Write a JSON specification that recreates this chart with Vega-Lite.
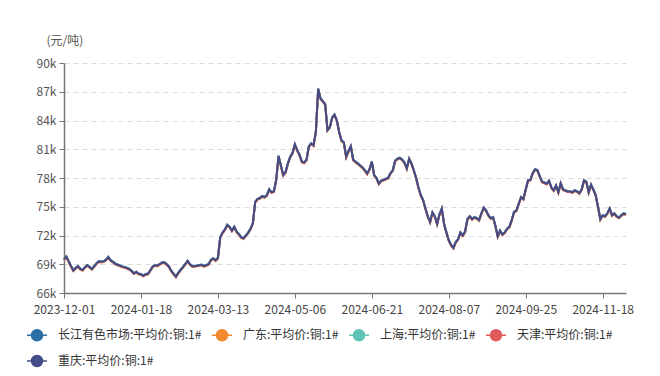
{
  "$schema": "https://vega.github.io/schema/vega-lite/v6.json",
  "width": 562,
  "height": 230,
  "autosize": {"type": "none"},
  "padding": {"left": 64, "top": 63, "right": 34, "bottom": 83},
  "background": "white",
  "config": {"view": {"stroke": null}, "font": "Noto Sans CJK SC"},
  "data": {"values": [
    {"d":"2023-12-01","cj":69530,"gd":69430,"sh":69510,"tj":69470,"cq":69500},
    {"d":"2023-12-04","cj":69830,"gd":69730,"sh":69810,"tj":69770,"cq":69800},
    {"d":"2023-12-05","cj":69330,"gd":69230,"sh":69310,"tj":69270,"cq":69300},
    {"d":"2023-12-06","cj":68830,"gd":68730,"sh":68810,"tj":68770,"cq":68800},
    {"d":"2023-12-07","cj":68380,"gd":68280,"sh":68360,"tj":68320,"cq":68350},
    {"d":"2023-12-08","cj":68630,"gd":68530,"sh":68610,"tj":68570,"cq":68600},
    {"d":"2023-12-11","cj":68830,"gd":68730,"sh":68810,"tj":68770,"cq":68800},
    {"d":"2023-12-12","cj":68530,"gd":68430,"sh":68510,"tj":68470,"cq":68500},
    {"d":"2023-12-13","cj":68430,"gd":68330,"sh":68410,"tj":68370,"cq":68400},
    {"d":"2023-12-14","cj":68730,"gd":68630,"sh":68710,"tj":68670,"cq":68700},
    {"d":"2023-12-15","cj":68930,"gd":68830,"sh":68910,"tj":68870,"cq":68900},
    {"d":"2023-12-18","cj":68730,"gd":68630,"sh":68710,"tj":68670,"cq":68700},
    {"d":"2023-12-19","cj":68530,"gd":68430,"sh":68510,"tj":68470,"cq":68500},
    {"d":"2023-12-20","cj":68830,"gd":68730,"sh":68810,"tj":68770,"cq":68800},
    {"d":"2023-12-21","cj":69130,"gd":69030,"sh":69110,"tj":69070,"cq":69100},
    {"d":"2023-12-22","cj":69330,"gd":69230,"sh":69310,"tj":69270,"cq":69300},
    {"d":"2023-12-25","cj":69280,"gd":69180,"sh":69260,"tj":69220,"cq":69250},
    {"d":"2023-12-26","cj":69330,"gd":69230,"sh":69310,"tj":69270,"cq":69300},
    {"d":"2023-12-27","cj":69480,"gd":69380,"sh":69460,"tj":69420,"cq":69450},
    {"d":"2023-12-28","cj":69780,"gd":69680,"sh":69760,"tj":69720,"cq":69750},
    {"d":"2023-12-29","cj":69430,"gd":69330,"sh":69410,"tj":69370,"cq":69400},
    {"d":"2024-01-02","cj":69280,"gd":69180,"sh":69260,"tj":69220,"cq":69250},
    {"d":"2024-01-03","cj":69080,"gd":68980,"sh":69060,"tj":69020,"cq":69050},
    {"d":"2024-01-04","cj":68980,"gd":68880,"sh":68960,"tj":68920,"cq":68950},
    {"d":"2024-01-05","cj":68880,"gd":68780,"sh":68860,"tj":68820,"cq":68850},
    {"d":"2024-01-08","cj":68780,"gd":68680,"sh":68760,"tj":68720,"cq":68750},
    {"d":"2024-01-09","cj":68730,"gd":68630,"sh":68710,"tj":68670,"cq":68700},
    {"d":"2024-01-10","cj":68630,"gd":68530,"sh":68610,"tj":68570,"cq":68600},
    {"d":"2024-01-11","cj":68530,"gd":68430,"sh":68510,"tj":68470,"cq":68500},
    {"d":"2024-01-12","cj":68330,"gd":68230,"sh":68310,"tj":68270,"cq":68300},
    {"d":"2024-01-15","cj":68080,"gd":67980,"sh":68060,"tj":68020,"cq":68050},
    {"d":"2024-01-16","cj":68230,"gd":68130,"sh":68210,"tj":68170,"cq":68200},
    {"d":"2024-01-17","cj":68030,"gd":67930,"sh":68010,"tj":67970,"cq":68000},
    {"d":"2024-01-18","cj":67980,"gd":67880,"sh":67960,"tj":67920,"cq":67950},
    {"d":"2024-01-19","cj":67830,"gd":67730,"sh":67810,"tj":67770,"cq":67800},
    {"d":"2024-01-22","cj":67980,"gd":67880,"sh":67960,"tj":67920,"cq":67950},
    {"d":"2024-01-23","cj":68030,"gd":67930,"sh":68010,"tj":67970,"cq":68000},
    {"d":"2024-01-24","cj":68380,"gd":68280,"sh":68360,"tj":68320,"cq":68350},
    {"d":"2024-01-25","cj":68780,"gd":68680,"sh":68760,"tj":68720,"cq":68750},
    {"d":"2024-01-26","cj":68930,"gd":68830,"sh":68910,"tj":68870,"cq":68900},
    {"d":"2024-01-29","cj":68880,"gd":68780,"sh":68860,"tj":68820,"cq":68850},
    {"d":"2024-01-30","cj":69030,"gd":68930,"sh":69010,"tj":68970,"cq":69000},
    {"d":"2024-01-31","cj":69180,"gd":69080,"sh":69160,"tj":69120,"cq":69150},
    {"d":"2024-02-01","cj":69230,"gd":69130,"sh":69210,"tj":69170,"cq":69200},
    {"d":"2024-02-02","cj":69030,"gd":68930,"sh":69010,"tj":68970,"cq":69000},
    {"d":"2024-02-05","cj":68780,"gd":68680,"sh":68760,"tj":68720,"cq":68750},
    {"d":"2024-02-06","cj":68330,"gd":68230,"sh":68310,"tj":68270,"cq":68300},
    {"d":"2024-02-07","cj":68030,"gd":67930,"sh":68010,"tj":67970,"cq":68000},
    {"d":"2024-02-08","cj":67730,"gd":67630,"sh":67710,"tj":67670,"cq":67700},
    {"d":"2024-02-19","cj":68130,"gd":68030,"sh":68110,"tj":68070,"cq":68100},
    {"d":"2024-02-20","cj":68430,"gd":68330,"sh":68410,"tj":68370,"cq":68400},
    {"d":"2024-02-21","cj":68730,"gd":68630,"sh":68710,"tj":68670,"cq":68700},
    {"d":"2024-02-22","cj":69030,"gd":68930,"sh":69010,"tj":68970,"cq":69000},
    {"d":"2024-02-23","cj":69380,"gd":69280,"sh":69360,"tj":69320,"cq":69350},
    {"d":"2024-02-26","cj":69030,"gd":68930,"sh":69010,"tj":68970,"cq":69000},
    {"d":"2024-02-27","cj":68830,"gd":68730,"sh":68810,"tj":68770,"cq":68800},
    {"d":"2024-02-28","cj":68830,"gd":68730,"sh":68810,"tj":68770,"cq":68800},
    {"d":"2024-02-29","cj":68880,"gd":68780,"sh":68860,"tj":68820,"cq":68850},
    {"d":"2024-03-01","cj":68930,"gd":68830,"sh":68910,"tj":68870,"cq":68900},
    {"d":"2024-03-04","cj":68980,"gd":68880,"sh":68960,"tj":68920,"cq":68950},
    {"d":"2024-03-05","cj":68830,"gd":68730,"sh":68810,"tj":68770,"cq":68800},
    {"d":"2024-03-06","cj":68930,"gd":68830,"sh":68910,"tj":68870,"cq":68900},
    {"d":"2024-03-07","cj":69030,"gd":68930,"sh":69010,"tj":68970,"cq":69000},
    {"d":"2024-03-08","cj":69480,"gd":69380,"sh":69460,"tj":69420,"cq":69450},
    {"d":"2024-03-11","cj":69630,"gd":69530,"sh":69610,"tj":69570,"cq":69600},
    {"d":"2024-03-12","cj":69430,"gd":69330,"sh":69410,"tj":69370,"cq":69400},
    {"d":"2024-03-13","cj":69680,"gd":69580,"sh":69660,"tj":69620,"cq":69650},
    {"d":"2024-03-14","cj":71830,"gd":71730,"sh":71810,"tj":71770,"cq":71800},
    {"d":"2024-03-15","cj":72330,"gd":72230,"sh":72310,"tj":72270,"cq":72300},
    {"d":"2024-03-18","cj":72630,"gd":72530,"sh":72610,"tj":72570,"cq":72600},
    {"d":"2024-03-19","cj":73130,"gd":73030,"sh":73110,"tj":73070,"cq":73100},
    {"d":"2024-03-20","cj":72930,"gd":72830,"sh":72910,"tj":72870,"cq":72900},
    {"d":"2024-03-21","cj":72530,"gd":72430,"sh":72510,"tj":72470,"cq":72500},
    {"d":"2024-03-22","cj":72930,"gd":72830,"sh":72910,"tj":72870,"cq":72900},
    {"d":"2024-03-25","cj":72430,"gd":72330,"sh":72410,"tj":72370,"cq":72400},
    {"d":"2024-03-26","cj":72180,"gd":72080,"sh":72160,"tj":72120,"cq":72150},
    {"d":"2024-03-27","cj":71830,"gd":71730,"sh":71810,"tj":71770,"cq":71800},
    {"d":"2024-03-28","cj":71730,"gd":71630,"sh":71710,"tj":71670,"cq":71700},
    {"d":"2024-03-29","cj":72030,"gd":71930,"sh":72010,"tj":71970,"cq":72000},
    {"d":"2024-04-01","cj":72330,"gd":72230,"sh":72310,"tj":72270,"cq":72300},
    {"d":"2024-04-02","cj":72730,"gd":72630,"sh":72710,"tj":72670,"cq":72700},
    {"d":"2024-04-03","cj":73330,"gd":73230,"sh":73310,"tj":73270,"cq":73300},
    {"d":"2024-04-08","cj":75530,"gd":75430,"sh":75510,"tj":75470,"cq":75500},
    {"d":"2024-04-09","cj":75830,"gd":75730,"sh":75810,"tj":75770,"cq":75800},
    {"d":"2024-04-10","cj":75930,"gd":75830,"sh":75910,"tj":75870,"cq":75900},
    {"d":"2024-04-11","cj":76130,"gd":76030,"sh":76110,"tj":76070,"cq":76100},
    {"d":"2024-04-12","cj":76030,"gd":75930,"sh":76010,"tj":75970,"cq":76000},
    {"d":"2024-04-15","cj":76230,"gd":76130,"sh":76210,"tj":76170,"cq":76200},
    {"d":"2024-04-16","cj":76830,"gd":76730,"sh":76810,"tj":76770,"cq":76800},
    {"d":"2024-04-17","cj":76530,"gd":76430,"sh":76510,"tj":76470,"cq":76500},
    {"d":"2024-04-18","cj":76630,"gd":76530,"sh":76610,"tj":76570,"cq":76600},
    {"d":"2024-04-19","cj":77830,"gd":77730,"sh":77810,"tj":77770,"cq":77800},
    {"d":"2024-04-22","cj":80330,"gd":80230,"sh":80310,"tj":80270,"cq":80300},
    {"d":"2024-04-23","cj":79330,"gd":79230,"sh":79310,"tj":79270,"cq":79300},
    {"d":"2024-04-24","cj":78330,"gd":78230,"sh":78310,"tj":78270,"cq":78300},
    {"d":"2024-04-25","cj":78630,"gd":78530,"sh":78610,"tj":78570,"cq":78600},
    {"d":"2024-04-26","cj":79530,"gd":79430,"sh":79510,"tj":79470,"cq":79500},
    {"d":"2024-04-29","cj":80230,"gd":80130,"sh":80210,"tj":80170,"cq":80200},
    {"d":"2024-04-30","cj":80630,"gd":80530,"sh":80610,"tj":80570,"cq":80600},
    {"d":"2024-05-06","cj":81530,"gd":81430,"sh":81510,"tj":81470,"cq":81500},
    {"d":"2024-05-07","cj":80930,"gd":80830,"sh":80910,"tj":80870,"cq":80900},
    {"d":"2024-05-08","cj":80430,"gd":80330,"sh":80410,"tj":80370,"cq":80400},
    {"d":"2024-05-09","cj":79730,"gd":79630,"sh":79710,"tj":79670,"cq":79700},
    {"d":"2024-05-10","cj":79630,"gd":79530,"sh":79610,"tj":79570,"cq":79600},
    {"d":"2024-05-13","cj":79930,"gd":79830,"sh":79910,"tj":79870,"cq":79900},
    {"d":"2024-05-14","cj":81330,"gd":81230,"sh":81310,"tj":81270,"cq":81300},
    {"d":"2024-05-15","cj":81630,"gd":81530,"sh":81610,"tj":81570,"cq":81600},
    {"d":"2024-05-16","cj":81430,"gd":81330,"sh":81410,"tj":81370,"cq":81400},
    {"d":"2024-05-17","cj":82830,"gd":82730,"sh":82810,"tj":82770,"cq":82800},
    {"d":"2024-05-20","cj":87330,"gd":87230,"sh":87310,"tj":87270,"cq":87300},
    {"d":"2024-05-21","cj":86330,"gd":86230,"sh":86310,"tj":86270,"cq":86300},
    {"d":"2024-05-22","cj":86030,"gd":85930,"sh":86010,"tj":85970,"cq":86000},
    {"d":"2024-05-23","cj":85730,"gd":85630,"sh":85710,"tj":85670,"cq":85700},
    {"d":"2024-05-24","cj":83030,"gd":82930,"sh":83010,"tj":82970,"cq":83000},
    {"d":"2024-05-27","cj":83330,"gd":83230,"sh":83310,"tj":83270,"cq":83300},
    {"d":"2024-05-28","cj":84330,"gd":84230,"sh":84310,"tj":84270,"cq":84300},
    {"d":"2024-05-29","cj":84630,"gd":84530,"sh":84610,"tj":84570,"cq":84600},
    {"d":"2024-05-30","cj":84030,"gd":83930,"sh":84010,"tj":83970,"cq":84000},
    {"d":"2024-05-31","cj":82830,"gd":82730,"sh":82810,"tj":82770,"cq":82800},
    {"d":"2024-06-03","cj":81930,"gd":81830,"sh":81910,"tj":81870,"cq":81900},
    {"d":"2024-06-04","cj":81730,"gd":81630,"sh":81710,"tj":81670,"cq":81700},
    {"d":"2024-06-05","cj":80230,"gd":80130,"sh":80210,"tj":80170,"cq":80200},
    {"d":"2024-06-06","cj":80830,"gd":80730,"sh":80810,"tj":80770,"cq":80800},
    {"d":"2024-06-07","cj":81330,"gd":81230,"sh":81310,"tj":81270,"cq":81300},
    {"d":"2024-06-11","cj":79930,"gd":79830,"sh":79910,"tj":79870,"cq":79900},
    {"d":"2024-06-12","cj":79730,"gd":79630,"sh":79710,"tj":79670,"cq":79700},
    {"d":"2024-06-13","cj":79530,"gd":79430,"sh":79510,"tj":79470,"cq":79500},
    {"d":"2024-06-14","cj":79330,"gd":79230,"sh":79310,"tj":79270,"cq":79300},
    {"d":"2024-06-17","cj":79130,"gd":79030,"sh":79110,"tj":79070,"cq":79100},
    {"d":"2024-06-18","cj":78830,"gd":78730,"sh":78810,"tj":78770,"cq":78800},
    {"d":"2024-06-19","cj":78480,"gd":78380,"sh":78460,"tj":78420,"cq":78450},
    {"d":"2024-06-20","cj":78930,"gd":78830,"sh":78910,"tj":78870,"cq":78900},
    {"d":"2024-06-21","cj":79730,"gd":79630,"sh":79710,"tj":79670,"cq":79700},
    {"d":"2024-06-24","cj":78330,"gd":78230,"sh":78310,"tj":78270,"cq":78300},
    {"d":"2024-06-25","cj":78030,"gd":77930,"sh":78010,"tj":77970,"cq":78000},
    {"d":"2024-06-26","cj":77430,"gd":77330,"sh":77410,"tj":77370,"cq":77400},
    {"d":"2024-06-27","cj":77730,"gd":77630,"sh":77710,"tj":77670,"cq":77700},
    {"d":"2024-06-28","cj":77830,"gd":77730,"sh":77810,"tj":77770,"cq":77800},
    {"d":"2024-07-01","cj":77930,"gd":77830,"sh":77910,"tj":77870,"cq":77900},
    {"d":"2024-07-02","cj":78030,"gd":77930,"sh":78010,"tj":77970,"cq":78000},
    {"d":"2024-07-03","cj":78530,"gd":78430,"sh":78510,"tj":78470,"cq":78500},
    {"d":"2024-07-04","cj":78830,"gd":78730,"sh":78810,"tj":78770,"cq":78800},
    {"d":"2024-07-05","cj":79830,"gd":79730,"sh":79810,"tj":79770,"cq":79800},
    {"d":"2024-07-08","cj":80030,"gd":79930,"sh":80010,"tj":79970,"cq":80000},
    {"d":"2024-07-09","cj":80130,"gd":80030,"sh":80110,"tj":80070,"cq":80100},
    {"d":"2024-07-10","cj":79930,"gd":79830,"sh":79910,"tj":79870,"cq":79900},
    {"d":"2024-07-11","cj":79630,"gd":79530,"sh":79610,"tj":79570,"cq":79600},
    {"d":"2024-07-12","cj":79030,"gd":78930,"sh":79010,"tj":78970,"cq":79000},
    {"d":"2024-07-15","cj":80030,"gd":79930,"sh":80010,"tj":79970,"cq":80000},
    {"d":"2024-07-16","cj":79530,"gd":79430,"sh":79510,"tj":79470,"cq":79500},
    {"d":"2024-07-17","cj":78830,"gd":78730,"sh":78810,"tj":78770,"cq":78800},
    {"d":"2024-07-18","cj":78030,"gd":77930,"sh":78010,"tj":77970,"cq":78000},
    {"d":"2024-07-19","cj":77030,"gd":76930,"sh":77010,"tj":76970,"cq":77000},
    {"d":"2024-07-22","cj":76230,"gd":76130,"sh":76210,"tj":76170,"cq":76200},
    {"d":"2024-07-23","cj":75730,"gd":75630,"sh":75710,"tj":75670,"cq":75700},
    {"d":"2024-07-24","cj":74830,"gd":74730,"sh":74810,"tj":74770,"cq":74800},
    {"d":"2024-07-25","cj":74030,"gd":73930,"sh":74010,"tj":73970,"cq":74000},
    {"d":"2024-07-26","cj":73430,"gd":73330,"sh":73410,"tj":73370,"cq":73400},
    {"d":"2024-07-29","cj":74430,"gd":74330,"sh":74410,"tj":74370,"cq":74400},
    {"d":"2024-07-30","cj":74030,"gd":73930,"sh":74010,"tj":73970,"cq":74000},
    {"d":"2024-07-31","cj":73230,"gd":73130,"sh":73210,"tj":73170,"cq":73200},
    {"d":"2024-08-01","cj":74230,"gd":74130,"sh":74210,"tj":74170,"cq":74200},
    {"d":"2024-08-02","cj":74830,"gd":74730,"sh":74810,"tj":74770,"cq":74800},
    {"d":"2024-08-05","cj":73230,"gd":73130,"sh":73210,"tj":73170,"cq":73200},
    {"d":"2024-08-06","cj":72330,"gd":72230,"sh":72310,"tj":72270,"cq":72300},
    {"d":"2024-08-07","cj":71530,"gd":71430,"sh":71510,"tj":71470,"cq":71500},
    {"d":"2024-08-08","cj":71030,"gd":70930,"sh":71010,"tj":70970,"cq":71000},
    {"d":"2024-08-09","cj":70730,"gd":70630,"sh":70710,"tj":70670,"cq":70700},
    {"d":"2024-08-12","cj":71330,"gd":71230,"sh":71310,"tj":71270,"cq":71300},
    {"d":"2024-08-13","cj":71630,"gd":71530,"sh":71610,"tj":71570,"cq":71600},
    {"d":"2024-08-14","cj":72330,"gd":72230,"sh":72310,"tj":72270,"cq":72300},
    {"d":"2024-08-15","cj":72030,"gd":71930,"sh":72010,"tj":71970,"cq":72000},
    {"d":"2024-08-16","cj":72430,"gd":72330,"sh":72410,"tj":72370,"cq":72400},
    {"d":"2024-08-19","cj":73730,"gd":73630,"sh":73710,"tj":73670,"cq":73700},
    {"d":"2024-08-20","cj":74030,"gd":73930,"sh":74010,"tj":73970,"cq":74000},
    {"d":"2024-08-21","cj":73730,"gd":73630,"sh":73710,"tj":73670,"cq":73700},
    {"d":"2024-08-22","cj":73930,"gd":73830,"sh":73910,"tj":73870,"cq":73900},
    {"d":"2024-08-23","cj":73830,"gd":73730,"sh":73810,"tj":73770,"cq":73800},
    {"d":"2024-08-26","cj":73630,"gd":73530,"sh":73610,"tj":73570,"cq":73600},
    {"d":"2024-08-27","cj":74330,"gd":74230,"sh":74310,"tj":74270,"cq":74300},
    {"d":"2024-08-28","cj":74930,"gd":74830,"sh":74910,"tj":74870,"cq":74900},
    {"d":"2024-08-29","cj":74630,"gd":74530,"sh":74610,"tj":74570,"cq":74600},
    {"d":"2024-08-30","cj":74130,"gd":74030,"sh":74110,"tj":74070,"cq":74100},
    {"d":"2024-09-02","cj":73830,"gd":73730,"sh":73810,"tj":73770,"cq":73800},
    {"d":"2024-09-03","cj":73930,"gd":73830,"sh":73910,"tj":73870,"cq":73900},
    {"d":"2024-09-04","cj":73030,"gd":72930,"sh":73010,"tj":72970,"cq":73000},
    {"d":"2024-09-05","cj":71930,"gd":71830,"sh":71910,"tj":71870,"cq":71900},
    {"d":"2024-09-06","cj":72530,"gd":72430,"sh":72510,"tj":72470,"cq":72500},
    {"d":"2024-09-09","cj":72130,"gd":72030,"sh":72110,"tj":72070,"cq":72100},
    {"d":"2024-09-10","cj":72330,"gd":72230,"sh":72310,"tj":72270,"cq":72300},
    {"d":"2024-09-11","cj":72730,"gd":72630,"sh":72710,"tj":72670,"cq":72700},
    {"d":"2024-09-12","cj":72930,"gd":72830,"sh":72910,"tj":72870,"cq":72900},
    {"d":"2024-09-13","cj":73630,"gd":73530,"sh":73610,"tj":73570,"cq":73600},
    {"d":"2024-09-18","cj":74480,"gd":74380,"sh":74460,"tj":74420,"cq":74450},
    {"d":"2024-09-19","cj":74630,"gd":74530,"sh":74610,"tj":74570,"cq":74600},
    {"d":"2024-09-20","cj":75330,"gd":75230,"sh":75310,"tj":75270,"cq":75300},
    {"d":"2024-09-23","cj":76030,"gd":75930,"sh":76010,"tj":75970,"cq":76000},
    {"d":"2024-09-24","cj":75830,"gd":75730,"sh":75810,"tj":75770,"cq":75800},
    {"d":"2024-09-25","cj":76830,"gd":76730,"sh":76810,"tj":76770,"cq":76800},
    {"d":"2024-09-26","cj":77780,"gd":77680,"sh":77760,"tj":77720,"cq":77750},
    {"d":"2024-09-27","cj":77830,"gd":77730,"sh":77810,"tj":77770,"cq":77800},
    {"d":"2024-09-30","cj":78530,"gd":78430,"sh":78510,"tj":78470,"cq":78500},
    {"d":"2024-10-08","cj":78930,"gd":78830,"sh":78910,"tj":78870,"cq":78900},
    {"d":"2024-10-09","cj":78830,"gd":78730,"sh":78810,"tj":78770,"cq":78800},
    {"d":"2024-10-10","cj":78230,"gd":78130,"sh":78210,"tj":78170,"cq":78200},
    {"d":"2024-10-11","cj":77630,"gd":77530,"sh":77610,"tj":77570,"cq":77600},
    {"d":"2024-10-14","cj":77530,"gd":77430,"sh":77510,"tj":77470,"cq":77500},
    {"d":"2024-10-15","cj":77430,"gd":77330,"sh":77410,"tj":77370,"cq":77400},
    {"d":"2024-10-16","cj":77730,"gd":77630,"sh":77710,"tj":77670,"cq":77700},
    {"d":"2024-10-17","cj":77030,"gd":76930,"sh":77010,"tj":76970,"cq":77000},
    {"d":"2024-10-18","cj":76730,"gd":76630,"sh":76710,"tj":76670,"cq":76700},
    {"d":"2024-10-21","cj":77230,"gd":77130,"sh":77210,"tj":77170,"cq":77200},
    {"d":"2024-10-22","cj":76530,"gd":76430,"sh":76510,"tj":76470,"cq":76500},
    {"d":"2024-10-23","cj":77480,"gd":77380,"sh":77460,"tj":77420,"cq":77450},
    {"d":"2024-10-24","cj":76830,"gd":76730,"sh":76810,"tj":76770,"cq":76800},
    {"d":"2024-10-25","cj":76730,"gd":76630,"sh":76710,"tj":76670,"cq":76700},
    {"d":"2024-10-28","cj":76630,"gd":76530,"sh":76610,"tj":76570,"cq":76600},
    {"d":"2024-10-29","cj":76630,"gd":76530,"sh":76610,"tj":76570,"cq":76600},
    {"d":"2024-10-30","cj":76530,"gd":76430,"sh":76510,"tj":76470,"cq":76500},
    {"d":"2024-10-31","cj":76730,"gd":76630,"sh":76710,"tj":76670,"cq":76700},
    {"d":"2024-11-01","cj":76630,"gd":76530,"sh":76610,"tj":76570,"cq":76600},
    {"d":"2024-11-04","cj":76430,"gd":76330,"sh":76410,"tj":76370,"cq":76400},
    {"d":"2024-11-05","cj":76830,"gd":76730,"sh":76810,"tj":76770,"cq":76800},
    {"d":"2024-11-06","cj":77780,"gd":77680,"sh":77760,"tj":77720,"cq":77750},
    {"d":"2024-11-07","cj":77630,"gd":77530,"sh":77610,"tj":77570,"cq":77600},
    {"d":"2024-11-08","cj":76530,"gd":76430,"sh":76510,"tj":76470,"cq":76500},
    {"d":"2024-11-11","cj":77330,"gd":77230,"sh":77310,"tj":77270,"cq":77300},
    {"d":"2024-11-12","cj":76830,"gd":76730,"sh":76810,"tj":76770,"cq":76800},
    {"d":"2024-11-13","cj":76230,"gd":76130,"sh":76210,"tj":76170,"cq":76200},
    {"d":"2024-11-14","cj":75030,"gd":74930,"sh":75010,"tj":74970,"cq":75000},
    {"d":"2024-11-15","cj":73730,"gd":73630,"sh":73710,"tj":73670,"cq":73700},
    {"d":"2024-11-18","cj":74130,"gd":74030,"sh":74110,"tj":74070,"cq":74100},
    {"d":"2024-11-19","cj":74030,"gd":73930,"sh":74010,"tj":73970,"cq":74000},
    {"d":"2024-11-20","cj":74330,"gd":74230,"sh":74310,"tj":74270,"cq":74300},
    {"d":"2024-11-21","cj":74830,"gd":74730,"sh":74810,"tj":74770,"cq":74800},
    {"d":"2024-11-22","cj":74130,"gd":74030,"sh":74110,"tj":74070,"cq":74100},
    {"d":"2024-11-25","cj":74330,"gd":74230,"sh":74310,"tj":74270,"cq":74300},
    {"d":"2024-11-26","cj":74030,"gd":73930,"sh":74010,"tj":73970,"cq":74000},
    {"d":"2024-11-27","cj":73880,"gd":73780,"sh":73860,"tj":73820,"cq":73850},
    {"d":"2024-11-28","cj":74130,"gd":74030,"sh":74110,"tj":74070,"cq":74100},
    {"d":"2024-11-29","cj":74330,"gd":74230,"sh":74310,"tj":74270,"cq":74300},
    {"d":"2024-12-02","cj":74230,"gd":74130,"sh":74210,"tj":74170,"cq":74200}
  ]},
  "transform": [{"fold": ["cj", "gd", "sh", "tj", "cq"], "as": ["series", "price"]}],
  "mark": {"type": "line", "strokeWidth": 2, "interpolate": "linear"},
  "encoding": {
    "x": {
      "field": "d",
      "type": "ordinal",
      "sort": null,
      "scale": {"type": "point", "padding": 0},
      "axis": {
        "title": null,
        "values": ["2023-12-01", "2024-01-18", "2024-03-13", "2024-05-06", "2024-06-21", "2024-08-07", "2024-09-25", "2024-11-18"],
        "labelAngle": 0,
        "labelFontSize": 12,
        "labelColor": "#444",
        "labelPadding": 6,
        "domainColor": "#777",
        "domainWidth": 1.5,
        "tickColor": "#777",
        "tickSize": 5,
        "grid": false
      }
    },
    "y": {
      "field": "price",
      "type": "quantitative",
      "scale": {"domain": [66000, 90000], "zero": false, "nice": false},
      "axis": {
        "values": [66000, 69000, 72000, 75000, 78000, 81000, 84000, 87000, 90000],
        "labelExpr": "datum.value / 1000 + 'k'",
        "labelFontSize": 12,
        "labelColor": "#555",
        "labelPadding": 3,
        "domainColor": "#777",
        "domainWidth": 1.5,
        "tickColor": "#777",
        "tickSize": 5,
        "grid": true,
        "gridColor": "#dcdcdc",
        "gridDash": [5, 4],
        "title": "(元/吨)",
        "titleAngle": 0,
        "titleAlign": "left",
        "titleBaseline": "middle",
        "titleX": -18,
        "titleY": -23,
        "titleFontSize": 12,
        "titleFontWeight": "normal",
        "titleColor": "#555"
      }
    },
    "color": {
      "field": "series",
      "type": "nominal",
      "scale": {
        "domain": ["cj", "gd", "sh", "tj", "cq"],
        "range": ["#2c6fa6", "#f08a2c", "#5fc3b8", "#e05c5c", "#434c86"]
      },
      "legend": {
        "title": null,
        "orient": "none",
        "legendX": -38,
        "legendY": 261,
        "direction": "horizontal",
        "columns": 4,
        "columnPadding": 7,
        "rowPadding": 6,
        "symbolType": "M-1,0L1,0M0.55,0A0.55,0.55,0,1,1,-0.55,0A0.55,0.55,0,1,1,0.55,0Z",
        "symbolSize": 400,
        "symbolStrokeWidth": 1.5,
        "symbolOpacity": 1,
        "labelFontSize": 12,
        "labelColor": "#333",
        "labelOffset": 10,
        "labelLimit": 300,
        "labelExpr": "{'cj':'长江有色市场:平均价:铜:1#','gd':'广东:平均价:铜:1#','sh':'上海:平均价:铜:1#','tj':'天津:平均价:铜:1#','cq':'重庆:平均价:铜:1#'}[datum.label]",
        "encode": {"symbols": {"update": {"fill": {"scale": "color", "field": "value"}}}}
      }
    }
  }
}
